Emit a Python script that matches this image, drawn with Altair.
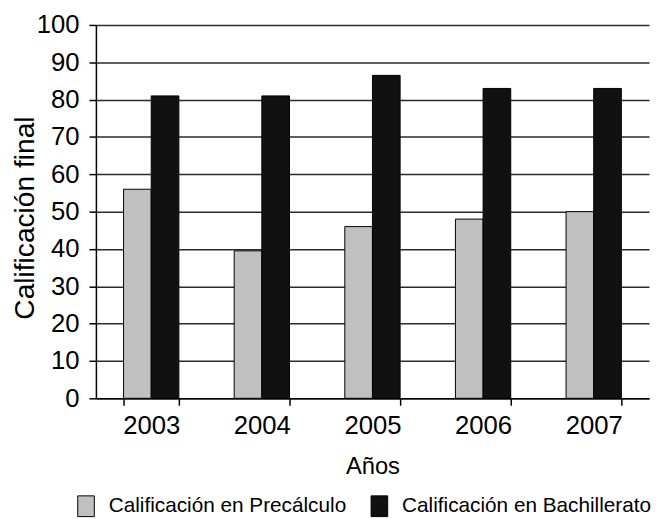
import altair as alt
import pandas as pd

years = ["2003", "2004", "2005", "2006", "2007"]
precalculo = [56, 39.5, 46, 48, 50]
bachillerato = [81, 81, 86.5, 83, 83]
series = ["Calificación en Precálculo", "Calificación en Bachillerato"]
colors = ["#c0c0c0", "#111111"]

rows = []
for i, y in enumerate(years):
    rows.append({"year": y, "serie": series[0], "value": precalculo[i]})
    rows.append({"year": y, "serie": series[1], "value": bachillerato[i]})
df = pd.DataFrame(rows)

FONT = "Liberation Sans"

chart = alt.Chart(df).mark_bar(stroke="black", strokeWidth=1).encode(
    x=alt.X(
        "year:N",
        title="Años",
        scale=alt.Scale(paddingInner=0.5, paddingOuter=0.25),
        axis=alt.Axis(
            labelAngle=0, tickBand="extent", ticks=True, tickSize=7,
            labelFontSize=26, titleFontSize=24, domainColor="black",
            tickColor="black", grid=False, labelPadding=8, titlePadding=16,
            labelColor="black", titleColor="black", titleFontWeight="normal",
            domainWidth=1.5, tickWidth=1.5,
        ),
    ),
    xOffset=alt.XOffset("serie:N", sort=series),
    y=alt.Y(
        "value:Q",
        title="Calificación final",
        scale=alt.Scale(domain=[0, 100]),
        axis=alt.Axis(
            values=list(range(0, 101, 10)), tickSize=7, labelFontSize=26,
            titleFontSize=28.5, labelPadding=10,
            titleX=-63, titleY=195, titleAngle=270, titleAlign="center",
            titleBaseline="alphabetic",
            domainColor="black", tickColor="black", gridColor="#2a2a2a",
            gridWidth=1.5, grid=True, labelColor="black", titleColor="black",
            titleFontWeight="normal", domainWidth=1.5, tickWidth=1.5,
        ),
    ),
    color=alt.Color(
        "serie:N",
        sort=series,
        scale=alt.Scale(domain=series, range=colors),
        legend=alt.Legend(
            title=None, orient="none", legendX=-21, legendY=476,
            direction="horizontal", columns=2, labelFontSize=21,
            labelColor="black", symbolType="M-0.8,-1H0.8V1H-0.8Z",
            symbolSize=441, symbolStrokeColor="black", symbolStrokeWidth=1,
            labelOffset=12, columnPadding=22, labelFont=FONT, labelLimit=500,
        ),
    ),
).properties(
    width=560,
    height=378,
    autosize=alt.AutoSizeParams(type="none"),
    padding={"left": 89, "top": 14, "right": 2, "bottom": 119},
).configure(
    font=FONT,
).configure_view(
    stroke=None
)

chart.save("out.html", embed_options={"renderer": "svg", "actions": False})
